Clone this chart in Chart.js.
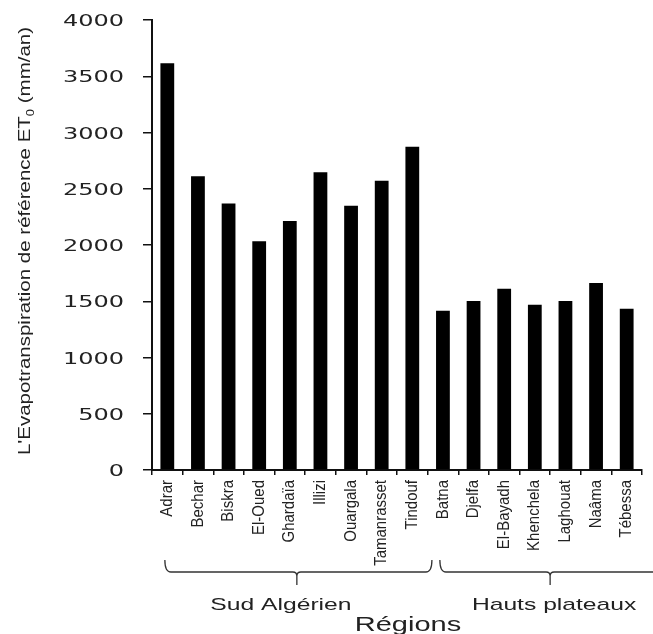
<!DOCTYPE html>
<html>
<head>
<meta charset="utf-8">
<script src="https://cdn.jsdelivr.net/npm/chart.js@4"></script>
<style>
  html, body { margin: 0; padding: 0; background: #fff; }
  canvas { display: block; }
</style>
</head>
<body>
<canvas id="etoChart" width="653" height="634"></canvas>
<script>

// regions and annual reference evapotranspiration ET0 (mm/an)
const regions = ['Adrar', 'Bechar', 'Biskra', 'El-Oued', 'Ghardaïa', 'Illizi', 'Ouargala', 'Tamanrasset', 'Tindouf',
                 'Batna', 'Djelfa', 'El-Bayadh', 'Khenchela', 'Laghouat', 'Naâma', 'Tébessa'];
const eto = [3615, 2612, 2370, 2033, 2213, 2646, 2350, 2572, 2874,
             1416, 1502, 1612, 1470, 1502, 1662, 1434];
const yTicks = [0, 500, 1000, 1500, 2000, 2500, 3000, 3500, 4000];

// region groups, given as category index ranges (from, to), bracket tip and label position
const groupNames = ['Sud Algérien', 'Hauts plateaux'];
const groupFrom = [-0.08, 8.9];
const groupTo = [8.64, 16.1];
const groupTip = [4.23, 12.5];
const groupText = [3.71, 12.63];

const yTitle = ["L'Evapotranspiration de référence ET", '0', ' (mm/an)'];
const xTitle = 'Régions';

const INK = '#111';

// y tick labels in a wide face, stretched horizontally
const yLabels = {
  id: 'yLabels',
  afterDraw(chart) {
    const ctx = chart.ctx;
    const ys = chart.scales.y;
    ctx.save();
    ctx.fillStyle = '#222';
    ctx.font = '16px "DejaVu Sans"';
    ctx.textAlign = 'right';
    ctx.textBaseline = 'middle';
    yTicks.forEach(function(v) {
      ctx.save();
      ctx.translate(chart.chartArea.left - 28, ys.getPixelForValue(v) + 2);
      ctx.scale(1.5, 1);
      ctx.fillText(String(v), 0, 0);
      ctx.restore();
    });
    ctx.restore();
  }
};

// region names, vertical and a little condensed
const xLabels = {
  id: 'xLabels',
  afterDraw(chart) {
    const ctx = chart.ctx;
    const xs = chart.scales.x;
    ctx.save();
    ctx.fillStyle = '#222';
    ctx.font = '15px "Liberation Sans"';
    ctx.textAlign = 'right';
    ctx.textBaseline = 'middle';
    regions.forEach(function(name, i) {
      ctx.save();
      ctx.translate(xs.getPixelForValue(i), chart.chartArea.bottom + 10);
      ctx.rotate(-Math.PI / 2);
      ctx.scale(1, 1.12);
      ctx.fillText(name, 0, 0);
      ctx.restore();
    });
    ctx.restore();
  }
};

// rotated y title with subscript 0
const yTitlePlugin = {
  id: 'yTitle',
  afterDraw(chart) {
    const ctx = chart.ctx;
    const area = chart.chartArea;
    const big = '20.5px "Liberation Sans"';
    const small = '13px "Liberation Sans"';
    ctx.save();
    ctx.fillStyle = '#222';
    ctx.textBaseline = 'middle';
    ctx.textAlign = 'left';
    ctx.font = big;
    const w0 = ctx.measureText(yTitle[0]).width;
    const w2 = ctx.measureText(yTitle[2]).width;
    ctx.font = small;
    const w1 = ctx.measureText(yTitle[1]).width;
    const total = w0 + w1 + w2;
    ctx.translate(26, (area.top + area.bottom) / 2 - 4);
    ctx.rotate(-Math.PI / 2);
    ctx.scale(1, 0.79);
    let x = -total / 2;
    ctx.font = big;
    ctx.fillText(yTitle[0], x, 0);
    x += w0;
    ctx.font = small;
    ctx.fillText(yTitle[1], x, 7);
    x += w1;
    ctx.font = big;
    ctx.fillText(yTitle[2], x, 0);
    ctx.restore();
  }
};

// curly brackets under each group of regions, with group names and axis title
const groupBrackets = {
  id: 'groupBrackets',
  afterDraw(chart) {
    const ctx = chart.ctx;
    const xs = chart.scales.x;
    const top = 560, line = 572, tipY = 585;
    ctx.save();
    ctx.strokeStyle = '#333';
    ctx.lineWidth = 1.3;
    for (let g = 0; g < groupNames.length; g++) {
      const x0 = xs.getPixelForValue(groupFrom[g]);
      const x1 = xs.getPixelForValue(groupTo[g]);
      const xc = xs.getPixelForValue(groupTip[g]);
      ctx.beginPath();
      ctx.moveTo(x0, top);
      ctx.quadraticCurveTo(x0, line, x0 + 6, line);
      ctx.lineTo(xc - 4, line);
      ctx.quadraticCurveTo(xc, line, xc, line + 4);
      ctx.lineTo(xc, tipY);
      ctx.moveTo(xc, line + 4);
      ctx.quadraticCurveTo(xc, line, xc + 4, line);
      ctx.lineTo(x1 - 6, line);
      ctx.quadraticCurveTo(x1, line, x1, top);
      ctx.stroke();

      ctx.save();
      ctx.fillStyle = '#222';
      ctx.font = '17px "Liberation Sans"';
      ctx.textAlign = 'center';
      ctx.textBaseline = 'alphabetic';
      ctx.translate(xs.getPixelForValue(groupText[g]), 610);
      ctx.scale(1.45, 1);
      ctx.fillText(groupNames[g], 0, 0);
      ctx.restore();
    }

    ctx.fillStyle = '#222';
    ctx.font = '20px "Liberation Sans"';
    ctx.textAlign = 'center';
    ctx.textBaseline = 'alphabetic';
    ctx.translate(408, 631);
    ctx.scale(1.45, 1);
    ctx.fillText(xTitle, 0, 0);
    ctx.restore();
  }
};

new Chart(document.getElementById('etoChart'), {
  type: 'bar',
  data: {
    labels: regions,
    datasets: [{
      data: eto,
      backgroundColor: '#000',
      borderWidth: 0,
      barPercentage: 0.45,
      categoryPercentage: 1
    }]
  },
  options: {
    responsive: false,
    animation: false,
    layout: { padding: { top: 20, right: 11, left: 0, bottom: 0 } },
    plugins: {
      legend: { display: false },
      tooltip: { enabled: false }
    },
    scales: {
      x: {
        afterFit: function(scale) { scale.height = 164; },
        grid: { display: true, offset: true, drawOnChartArea: false, drawTicks: true, tickLength: 5, color: INK, lineWidth: 1.5 },
        border: { display: true, color: INK, width: 2 },
        ticks: { display: false }
      },
      y: {
        min: 0,
        max: 4000,
        afterFit: function(scale) { scale.width = 152; },
        grid: { display: true, drawOnChartArea: false, drawTicks: true, tickLength: 9, color: INK, lineWidth: 1.5 },
        border: { display: true, color: INK, width: 2 },
        ticks: { display: false, stepSize: 500 }
      }
    }
  },
  plugins: [yLabels, xLabels, yTitlePlugin, groupBrackets]
});
</script>
</body>
</html>
